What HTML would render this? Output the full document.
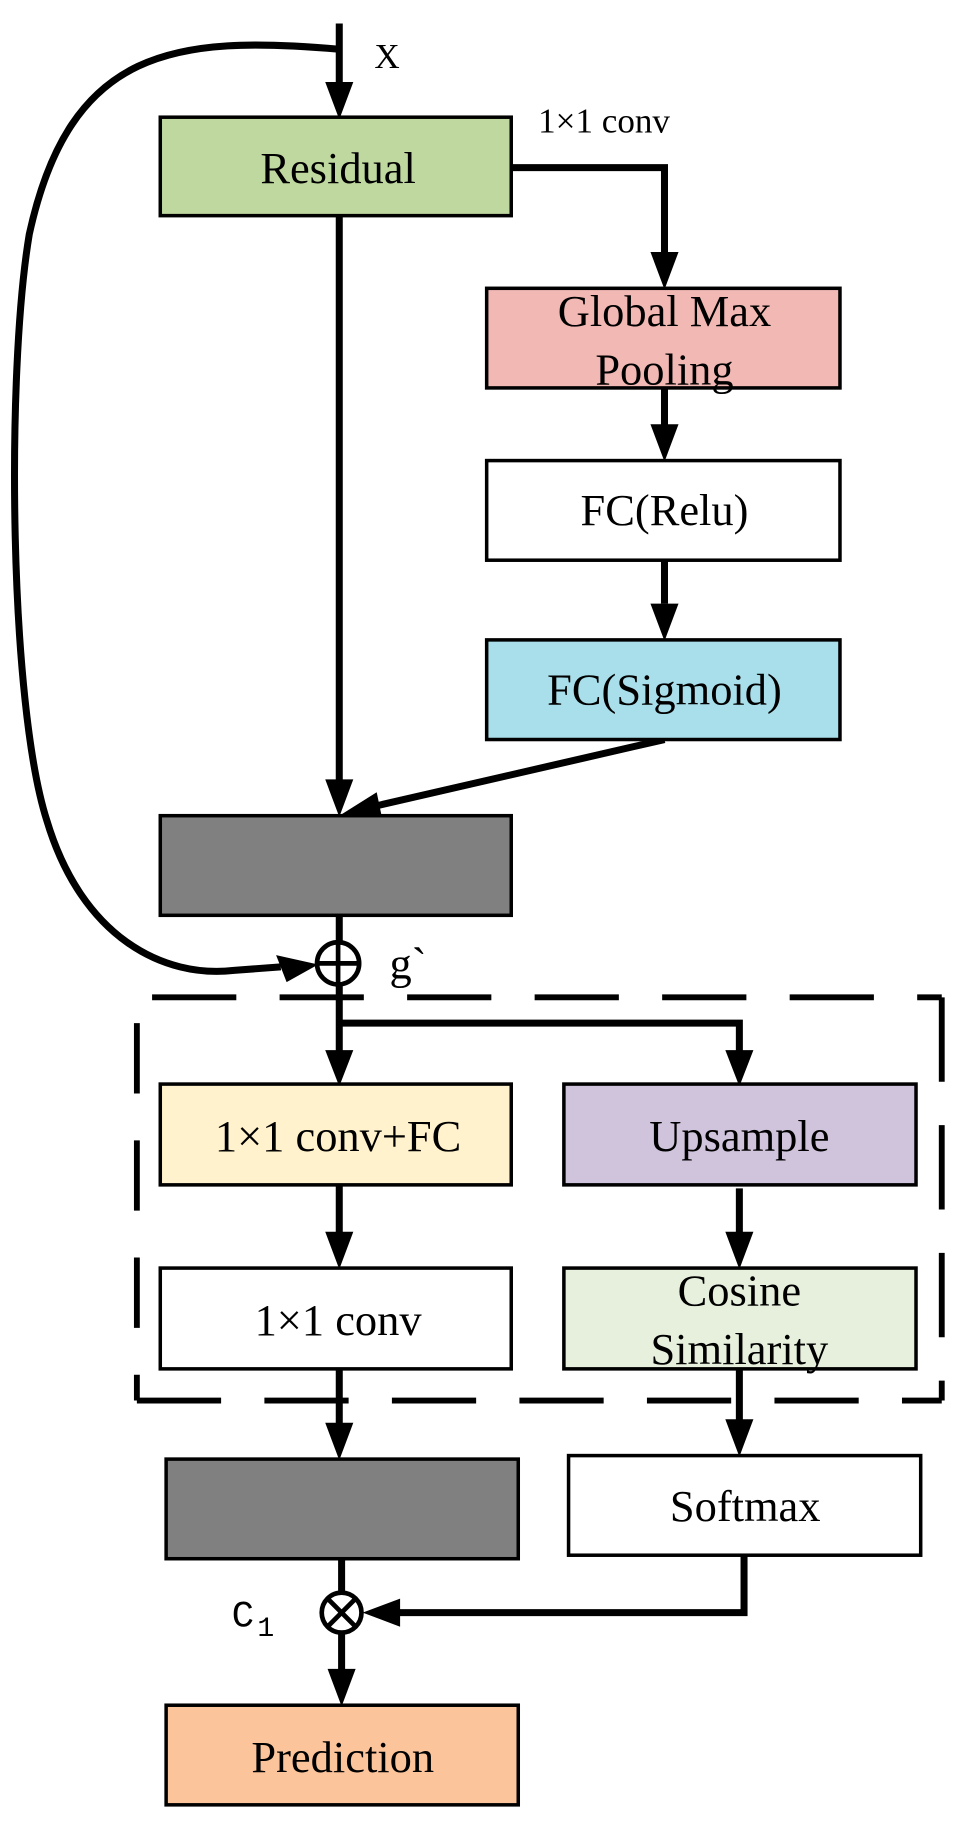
<!DOCTYPE html>
<html><head><style>html,body{margin:0;padding:0;background:#fff}svg{display:block}</style></head>
<body>
<svg width="971" height="1840" viewBox="0 0 830 1570" preserveAspectRatio="none" xmlns="http://www.w3.org/2000/svg" font-family="Liberation Serif, serif">
<g fill="none" stroke="#000" stroke-width="6">
<line x1="290" y1="20" x2="290" y2="75"/>
<path d="M290,42 C150,30 60,40 25,200 C5,320 8,600 40,700 C70,800 140,835 200,828 L240,825"/>
<line x1="290" y1="184" x2="290" y2="670"/>
<path d="M437,143 L568,143 L568,215"/>
<line x1="568" y1="331" x2="568" y2="365"/>
<line x1="568" y1="478" x2="568" y2="515"/>
<line x1="568" y1="631" x2="320" y2="688"/>
<line x1="290" y1="781" x2="290" y2="900"/>
<path d="M290,873 L632,873 L632,900"/>
<line x1="290" y1="1011" x2="290" y2="1055"/>
<line x1="632" y1="1014" x2="632" y2="1055"/>
<line x1="290" y1="1168" x2="290" y2="1215"/>
<line x1="632" y1="1168" x2="632" y2="1212"/>
<path d="M636,1327 L636,1376 L340,1376"/>
<line x1="292" y1="1330" x2="292" y2="1430"/>
</g>
<g fill="#000">
<polygon points="278,70 302,70 290,102"/>
<polygon points="556,215 580,215 568,247"/>
<polygon points="556,362 580,362 568,394"/>
<polygon points="556,515 580,515 568,547"/>
<polygon points="278,665 302,665 290,697"/>
<polygon points="322,676 327,700 290,696"/>
<polygon points="236,815 245,838 272,823"/>
<polygon points="278,896 302,896 290,927"/>
<polygon points="620,896 644,896 632,927"/>
<polygon points="278,1051 302,1051 290,1083"/>
<polygon points="620,1051 644,1051 632,1083"/>
<polygon points="278,1214 302,1214 290,1246"/>
<polygon points="620,1211 644,1211 632,1243"/>
<polygon points="342,1364 342,1388 310,1376"/>
<polygon points="280,1424 304,1424 292,1456"/>
</g>
<g stroke="#000" stroke-width="3">
<rect x="137" y="100" width="300" height="84" fill="#bfd8a0"/>
<rect x="416" y="246" width="302" height="85" fill="#f2b8b4"/>
<rect x="416" y="393" width="302" height="85" fill="#fff"/>
<rect x="416" y="546" width="302" height="85" fill="#a8dfea"/>
<rect x="137" y="696" width="300" height="85" fill="#808080"/>
<rect x="137" y="925" width="300" height="86" fill="#fff2cc"/>
<rect x="482" y="925" width="301" height="86" fill="#d0c3dc"/>
<rect x="137" y="1082" width="300" height="86" fill="#fff"/>
<rect x="482" y="1082" width="301" height="86" fill="#e6f0dc"/>
<rect x="142" y="1245" width="301" height="85" fill="#808080"/>
<rect x="486" y="1242" width="301" height="85" fill="#fff"/>
<rect x="142" y="1455" width="301" height="85" fill="#fcc49a"/>
</g>
<g fill="none" stroke="#000" stroke-width="5" stroke-dasharray="72,37">
<line x1="130" y1="851" x2="805" y2="851"/>
<line x1="805" y1="851" x2="805" y2="1195"/>
<line x1="117" y1="1195" x2="805" y2="1195"/>
<line x1="117" y1="873" x2="117" y2="1195" stroke-dasharray="60,40"/>
</g>
<g fill="none" stroke="#000" stroke-width="4">
<circle cx="289" cy="822" r="18" fill="#fff"/>
<line x1="289" y1="804" x2="289" y2="840"/><line x1="271" y1="822" x2="307" y2="822"/>
<circle cx="292" cy="1376" r="17" fill="#fff"/>
<line x1="280" y1="1364" x2="304" y2="1388"/><line x1="304" y1="1364" x2="280" y2="1388"/>
</g>
<g font-size="38" text-anchor="middle" fill="#000">
<text x="289" y="156">Residual</text>
<text x="568" y="278">Global Max</text>
<text x="568" y="328">Pooling</text>
<text x="568" y="448">FC(Relu)</text>
<text x="568" y="601">FC(Sigmoid)</text>
<text x="289" y="982">1×1 conv+FC</text>
<text x="632" y="982">Upsample</text>
<text x="289" y="1139">1×1 conv</text>
<text x="632" y="1114">Cosine</text>
<text x="632" y="1164">Similarity</text>
<text x="637" y="1298">Softmax</text>
<text x="293" y="1512">Prediction</text>
</g>
<g font-size="30" fill="#000">
<text x="320" y="58">X</text>
<text x="460" y="113">1×1 conv</text>
<text x="333" y="835" font-size="38">g`</text>
<text x="198" y="1388" font-family="Liberation Mono, monospace" font-size="32">C</text>
<text x="220" y="1396" font-family="Liberation Mono, monospace" font-size="24">1</text>
</g>
</svg>
</body></html>
